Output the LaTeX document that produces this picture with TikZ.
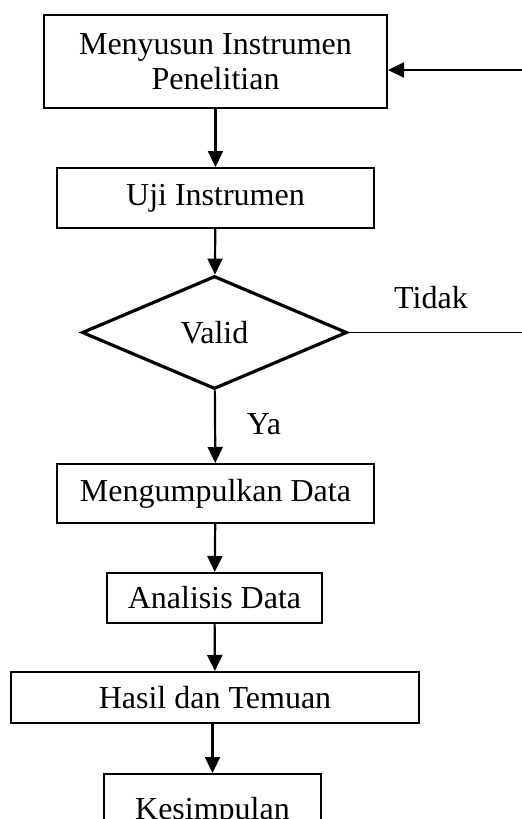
\documentclass[tikz,border=0pt]{standalone}
\usepackage{fontspec}
\setmainfont{Liberation Serif}
\usetikzlibrary{shapes.geometric,arrows.meta}

\tikzset{
    langkah/.style={draw, line width=1pt, inner sep=0pt, align=center,
        font=\fontsize{16}{17.5}\selectfont},
    keputusan/.style={draw, diamond, line width=1.6pt, inner sep=0pt,
        aspect=2.35, minimum width=132.5pt, minimum height=56.5pt,
        font=\fontsize{16}{17.5}\selectfont},
    keterangan/.style={inner sep=0pt, font=\fontsize{16}{17.5}\selectfont},
    panah/.style={-{Triangle[length=8pt,width=7.5pt]}, line width=1.1pt},
    garis/.style={line width=0.8pt}
}

\begin{document}
\begin{tikzpicture}[x=0.5pt, y=-0.5pt]
    \useasboundingbox (0,0) rectangle (522,819);
    % langkah-langkah
    \node[langkah, minimum width=171.5pt, minimum height=46.5pt] (susun) at (215.5,61.5) {Menyusun Instrumen\\Penelitian};
    \node[langkah, minimum width=158.5pt, minimum height=30pt] (uji) at (215.5,198) {Uji Instrumen};
    \node[keputusan] (valid) at (214.5,332.5) {Valid};
    \node[langkah, minimum width=158.5pt, minimum height=29.5pt] (kumpul) at (215.5,493.5) {Mengumpulkan Data};
    \node[langkah, minimum width=107.5pt, minimum height=25pt] (analisis) at (214.5,598) {Analisis Data};
    \node[langkah, minimum width=204pt, minimum height=25.5pt] (hasil) at (215,697.5) {Hasil dan Temuan};
    \node[langkah, minimum width=108.5pt, minimum height=38pt] (simpul) at (212.5,812) {Kesimpulan};
    % keterangan cabang
    \node[keterangan] (tidak) at (431,298) {Tidak};
    \node[keterangan] (ya) at (264,424) {Ya};
    % ujung kanan jalur balik
    \coordinate (balik) at (522,70);
    \coordinate (ujungtidak) at (522,332.5);
    % panah
    \draw[panah] (susun) -- (uji);
    \draw[panah] (uji) -- (valid);
    \draw[panah] (valid) -- (kumpul);
    \draw[panah] (kumpul) -- (analisis);
    \draw[panah] (analisis) -- (hasil);
    \draw[panah] (simpul.north |- hasil.south) -- (simpul.north);
    \draw[garis] (valid.east) -- (ujungtidak);
    \draw[panah] (balik) -- (balik -| susun.east);
\end{tikzpicture}
\end{document}
